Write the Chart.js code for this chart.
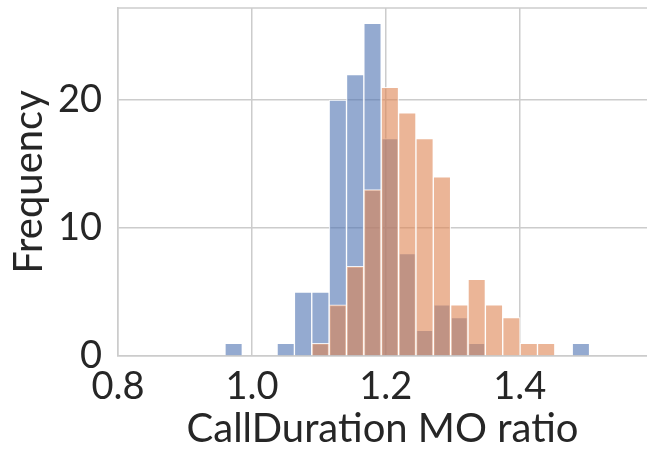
<!DOCTYPE html>
<html>
<head>
<meta charset="utf-8">
<script src="https://cdn.jsdelivr.net/npm/chart.js@4"></script>
<style>
  html, body { margin: 0; padding: 0; background: #fff; }
  #wrap { width: 647px; height: 453px; }
</style>
</head>
<body>
<div id="wrap"><canvas id="hist"></canvas></div>
<script>
// bin centres (shared bins for both groups)
var binCenters = [0.9727, 0.9986, 1.0245, 1.0505, 1.0764, 1.1023, 1.1283, 1.1542, 1.1801, 1.2060, 1.2320,
  1.2579, 1.2838, 1.3097, 1.3357, 1.3616, 1.3875, 1.4135, 1.4394, 1.4653, 1.4913];
var blueCounts = [1, 0, 0, 1, 5, 5, 20, 22, 26, 17, 8, 2, 4, 3, 1, 0, 0, 0, 0, 0, 1];
var orangeCounts = [0, 0, 0, 0, 0, 1, 4, 7, 13, 21, 19, 17, 14, 4, 6, 4, 3, 1, 1, 0, 0];
var xTicks = [0.8, 1.0, 1.2, 1.4];
var yTicks = [0, 10, 20];

function pts(counts) {
  return binCenters.map(function (c, i) { return { x: c, y: counts[i] }; });
}

// top spine (seaborn whitegrid frame)
var frame = {
  id: 'frame',
  afterDraw: function (chart) {
    var a = chart.chartArea, ctx = chart.ctx;
    ctx.save();
    ctx.strokeStyle = '#cccccc';
    ctx.lineWidth = 1.5;
    ctx.beginPath();
    ctx.moveTo(a.left, a.top);
    ctx.lineTo(a.right, a.top);
    ctx.stroke();
    ctx.restore();
  }
};

var tickFont = { family: 'Lato', size: 38 };
var titleFont = { family: 'Lato', size: 40 };

new Chart(document.getElementById('hist'), {
  type: 'bar',
  data: {
    datasets: [{
      label: 'orange',
      data: pts(orangeCounts),
      backgroundColor: 'rgba(221,132,82,0.6)',
      borderColor: 'rgba(255,255,255,0.85)',
      borderWidth: 1
    }, {
      label: 'blue',
      data: pts(blueCounts),
      backgroundColor: 'rgba(76,114,176,0.6)',
      borderColor: 'rgba(255,255,255,0.85)',
      borderWidth: 1
    }]
  },
  options: {
    responsive: true,
    maintainAspectRatio: false,
    animation: false,
    grouped: false,
    barPercentage: 1,
    categoryPercentage: 1,
    layout: { padding: { top: 8, right: 0, left: 0, bottom: 0 } },
    plugins: { legend: { display: false }, tooltip: { enabled: false } },
    scales: {
      x: {
        type: 'linear',
        offset: false,
        min: 0.8,
        max: 1.59,
        afterBuildTicks: function (s) { s.ticks = xTicks.map(function (v) { return { value: v }; }); },
        afterFit: function (s) { s.height = 97; s.paddingLeft = 0; s.paddingRight = 0; },
        grid: { color: '#cccccc', lineWidth: 1.5, drawTicks: false, offset: false },
        border: { color: '#cccccc', width: 1.5 },
        ticks: {
          font: tickFont, color: '#262626', padding: 8, maxRotation: 0,
          callback: function (v) { return v.toFixed(1); }
        },
        title: { display: true, text: 'CallDuration MO ratio', font: titleFont, color: '#262626', padding: 0 }
      },
      y: {
        min: 0,
        max: 27.2,
        afterBuildTicks: function (s) { s.ticks = yTicks.map(function (v) { return { value: v }; }); },
        afterFit: function (s) { s.width = 118; s.paddingTop = 0; s.paddingBottom = 0; },
        grid: { color: '#cccccc', lineWidth: 1.5, drawTicks: false },
        border: { color: '#cccccc', width: 1.5 },
        ticks: { font: tickFont, color: '#262626', padding: 16 },
        title: { display: true, text: 'Frequency', font: titleFont, color: '#262626', padding: { top: 5, bottom: 0 } }
      }
    }
  },
  plugins: [frame]
});
</script>
</body>
</html>
